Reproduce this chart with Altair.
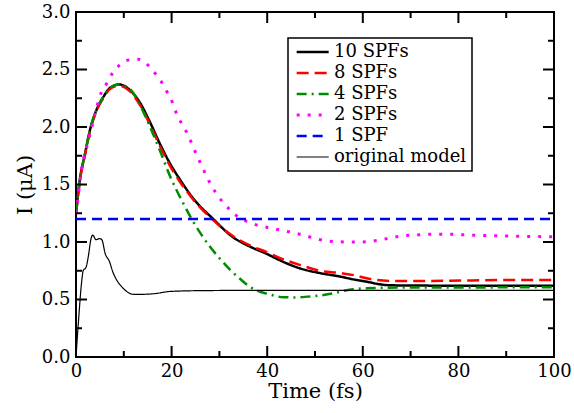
import altair as alt
import pandas as pd

series_names = ["10 SPFs", "8 SPFs", "4 SPFs", "2 SPFs", "1 SPF", "original model"]
colors = ["#000000", "#ff0000", "#008c00", "#ff00ff", "#0000ff", "#000000"]
dashes = [[1, 0], [12, 6], [10, 5, 2, 5], [3, 8], [10, 6], [1, 0]]
widths = [2.5, 2.5, 2.5, 3, 2.5, 1.2]

t10 = [0, 0.8, 1.9, 2.9, 4.3, 5.7, 7.1, 9, 11.3, 13.4, 15.5, 17.6, 19.7, 21.8, 24.5, 28.7, 32.9, 36.4, 40, 42.7, 46.9, 51, 55.2, 58, 60.8, 63.6, 66.4, 80, 100]
i10 = [1.25, 1.54, 1.77, 1.97, 2.15, 2.26, 2.34, 2.37, 2.32, 2.21, 2.04, 1.85, 1.68, 1.54, 1.38, 1.2, 1.04, 0.96, 0.895, 0.84, 0.77, 0.73, 0.70, 0.675, 0.655, 0.632, 0.623, 0.62, 0.62]

t8 = [0, 0.8, 1.9, 2.9, 4.3, 5.7, 7.1, 9, 11.3, 13.4, 15.5, 17.6, 19.7, 21.8, 24.5, 28.7, 32.9, 36.4, 40, 42.7, 46.9, 51, 55.2, 58.7, 60.8, 62.9, 67.1, 77.5, 91.4, 100]
i8 = [1.24, 1.53, 1.76, 1.96, 2.14, 2.25, 2.33, 2.36, 2.31, 2.19, 2.02, 1.83, 1.66, 1.52, 1.37, 1.19, 1.05, 0.97, 0.91, 0.86, 0.80, 0.75, 0.73, 0.707, 0.684, 0.67, 0.66, 0.663, 0.67, 0.67]

t4 = [0, 0.8, 1.9, 2.9, 4.3, 5.7, 7.1, 9, 11.3, 13.4, 15.5, 17.6, 19.7, 22.4, 24.2, 26.3, 28, 30, 32.2, 34.3, 36.4, 38, 40, 43.4, 46, 48.5, 51, 53.8, 56, 58, 60.8, 65, 100]
i4 = [1.25, 1.54, 1.77, 1.97, 2.15, 2.26, 2.34, 2.37, 2.33, 2.19, 2.0, 1.79, 1.57, 1.34, 1.2, 1.06, 0.96, 0.86, 0.76, 0.68, 0.61, 0.575, 0.55, 0.52, 0.518, 0.525, 0.535, 0.553, 0.575, 0.59, 0.597, 0.603, 0.606]

t2 = [0, 0.3, 0.8, 1.5, 2.2, 3.3, 4.2, 5.2, 6.3, 7.5, 8.9, 10.7, 13, 15, 16.5, 17.9, 19.1, 20.2, 21, 22.1, 23.2, 25.1, 27, 28.2, 29.4, 32.2, 34.2, 36.3, 38.5, 40.9, 43.2, 45.5, 48, 50, 52.4, 56.9, 59.2, 64, 66.2, 68.6, 70.9, 73.4, 77.8, 82.8, 87.3, 92.2, 100]
i2 = [1.25, 1.34, 1.52, 1.71, 1.82, 2.0, 2.15, 2.29, 2.37, 2.46, 2.53, 2.58, 2.59, 2.54, 2.47, 2.39, 2.30, 2.21, 2.12, 2.03, 1.95, 1.77, 1.6, 1.5, 1.42, 1.28, 1.21, 1.17, 1.14, 1.12, 1.10, 1.08, 1.055, 1.03, 1.01, 1.0, 1.0, 1.02, 1.04, 1.055, 1.06, 1.067, 1.067, 1.06, 1.055, 1.05, 1.045]

t1 = [0, 100]
i1 = [1.2, 1.2]

t_orig = [0, 0.5, 1.2, 1.5, 2.1, 2.6, 3.1, 3.5, 4.2, 4.9, 5.4, 6.1, 7.0, 7.7, 8.5, 9.6, 10.6, 12, 13.7, 16.2, 19.7, 26, 40, 60, 100]
i_orig = [0, 0.3, 0.66, 0.75, 0.78, 0.88, 1.02, 1.06, 1.02, 1.03, 1.02, 0.90, 0.83, 0.74, 0.67, 0.61, 0.57, 0.545, 0.545, 0.55, 0.57, 0.577, 0.58, 0.58, 0.58]

x_major = [0, 20, 40, 60, 80, 100]
x_minor = [10, 30, 50, 70, 90]
y_major = [0, 0.5, 1.0, 1.5, 2.0, 2.5, 3.0]
y_minor = [0.25, 0.75, 1.25, 1.75, 2.25, 2.75]

W, H = 478, 345
FONT = "DejaVu Serif"

rows = []
for name, ts, vs in zip(series_names, [t10, t8, t4, t2, t1, t_orig], [i10, i8, i4, i2, i1, i_orig]):
    for t, v in zip(ts, vs):
        rows.append({"series": name, "t": t, "I": v})
df = pd.DataFrame(rows)

axis_common = dict(labelFont=FONT, titleFont=FONT, labelFontSize=18, titleFontSize=21,
                   labelColor="black", titleColor="black", titleFontWeight=400, labelFontWeight=400,
                   labelFlush=False, ticks=False, domain=False, grid=False)

x_enc = alt.X("t:Q", scale=alt.Scale(domain=[0, 100], nice=False),
              axis=alt.Axis(values=x_major, title="Time (fs)", labelPadding=5, titlePadding=0, **axis_common))
y_enc = alt.Y("I:Q", scale=alt.Scale(domain=[0, 3], nice=False),
              axis=alt.Axis(values=y_major, format=".1f", title="I (μA)", labelPadding=6, titlePadding=6, **axis_common))

leg = alt.Legend(title=None, symbolType="M-1,0H5", symbolSize=114, labelOffset=23,
                 labelFont=FONT, labelFontSize=18, labelColor="black",
                 labelLimit=0, rowPadding=3)

lines = alt.Chart(df).mark_line(interpolate="monotone", clip=True).encode(
    x=x_enc,
    y=y_enc,
    color=alt.Color("series:N", scale=alt.Scale(domain=series_names, range=colors), legend=leg),
    strokeDash=alt.StrokeDash("series:N", scale=alt.Scale(domain=series_names, range=dashes), legend=leg),
    strokeWidth=alt.StrokeWidth("series:N", scale=alt.Scale(type="ordinal", domain=series_names, range=widths), legend=leg),
    order=alt.Order("t:Q"),
)

xmaj_df = pd.DataFrame({"t": x_major})
xmin_df = pd.DataFrame({"t": x_minor})
ymaj_df = pd.DataFrame({"I": y_major})
ymin_df = pd.DataFrame({"I": y_minor})

def xticks(d, length, top):
    if top:
        return alt.Chart(d).mark_rule(color="black", strokeWidth=2).encode(
            x=x_enc, y=alt.value(0), y2=alt.value(length))
    return alt.Chart(d).mark_rule(color="black", strokeWidth=2).encode(
        x=x_enc, y=alt.value(H), y2=alt.value(H - length))

def yticks(d, length, right):
    if right:
        return alt.Chart(d).mark_rule(color="black", strokeWidth=2).encode(
            y=y_enc, x=alt.value(W), x2=alt.value(W - length))
    return alt.Chart(d).mark_rule(color="black", strokeWidth=2).encode(
        y=y_enc, x=alt.value(0), x2=alt.value(length))

tick_layers = [
    xticks(xmaj_df, 11, False), xticks(xmin_df, 6, False),
    xticks(xmaj_df, 11, True), xticks(xmin_df, 6, True),
    yticks(ymaj_df, 11, False), yticks(ymin_df, 6, False),
    yticks(ymaj_df, 11, True), yticks(ymin_df, 6, True),
]

chart = alt.layer(lines, *tick_layers).properties(
    width=W, height=H,
    padding={"left": 76, "top": 12, "right": 20, "bottom": 56},
    autosize=alt.AutoSizeParams(type="none"),
).configure_view(
    stroke="black", strokeWidth=2
).configure_axis(
    labelFont=FONT, titleFont=FONT, labelFontSize=18, titleFontSize=21,
    labelColor="black", titleColor="black", titleFontWeight=400, labelFontWeight=400,
).configure_legend(
    orient="none", legendX=212, legendY=26, padding=5,
    strokeColor="black", strokeWidth=1.5, fillColor="white",
    labelFont=FONT, labelFontSize=18, labelColor="black",
)

chart.save("out.html", embed_options={"renderer": "svg", "actions": False})
